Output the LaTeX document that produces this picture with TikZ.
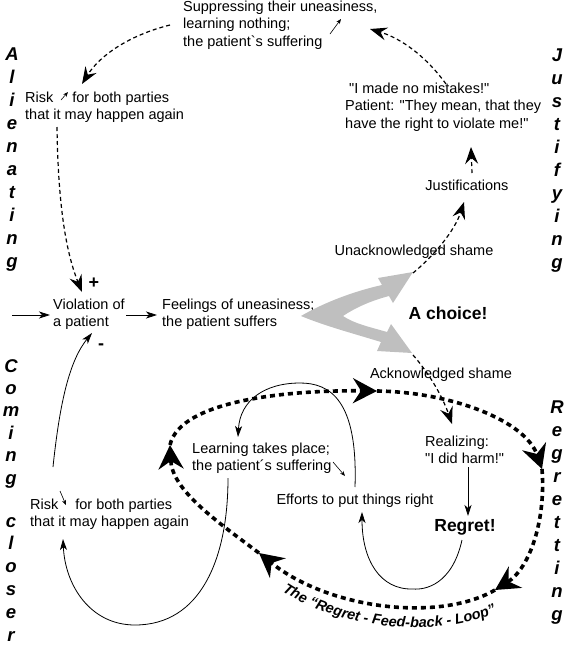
\documentclass[tikz,border=0pt]{standalone}
\usepackage{fontspec}
\setmainfont{Liberation Sans}[Ligatures=TeXOff]
\usetikzlibrary{arrows.meta,decorations.text,calc}
\begin{document}
\begin{tikzpicture}[x=1pt,y=-1pt,
  txt/.style={font=\fontsize{14.5}{17.5}\selectfont, inner sep=0pt, align=left},
  btxt/.style={font=\fontsize{17.5}{20}\selectfont\bfseries, inner sep=0pt},
  vword/.style={font=\fontsize{18.5}{20}\selectfont\bfseries\itshape, inner sep=0pt, anchor=base},
  conn/.style={line width=0.8pt, -{Stealth[length=11pt,width=7pt,inset=3pt]}},
  dconn/.style={line width=1.2pt, dash pattern=on 4pt off 3pt, -{Stealth[length=17pt,width=13pt,inset=6pt]}},
  loopseg/.style={line width=3.6pt, dash pattern=on 5pt off 4pt, -{Stealth[length=24pt,width=25pt,inset=8pt]}},
  tinyarr/.style={line width=0.6pt, -{Stealth[length=5pt,width=4pt,inset=1.5pt]}},
]
\useasboundingbox (0,0) rectangle (567,646);

% vertical words
\foreach \c [count=\i] in {A,l,i,e,n,a,t,i,n,g}
  \node[vword] (al\i) at (12,{54+23.1*(\i-1)+6}) {\c};
\foreach \c [count=\i] in {J,u,s,t,i,f,y,i,n,g}
  \node[vword] (ju\i) at (557,{55+23*(\i-1)+6}) {\c};
\foreach \c [count=\i] in {R,e,g,r,e,t,t,i,n,g}
  \node[vword] (re\i) at (557,{407+23.1*(\i-1)+6}) {\c};
\foreach \c [count=\i] in {C,o,m,i,n,g}
  \node[vword] (co\i) at (11,{366+22.4*(\i-1)+6}) {\c};
\foreach \c [count=\i] in {c,l,o,s,e,r}
  \node[vword] (cl\i) at (11,{521+22.8*(\i-1)+6}) {\c};

% text nodes
\node[txt, anchor=west] (sup) at (183,25) {Suppressing their uneasiness,\\learning nothing;\\the patient`s suffering};
\node[txt, anchor=west] (riskT) at (25,107) {Risk\hspace{19pt}for both parties\\that it may happen again};
\node[txt, anchor=west] (viol) at (53,314) {Violation of\\a patient};
\node[txt, anchor=west] (feel) at (162,314) {Feelings of uneasiness;\\the patient suffers};
\node[txt, anchor=west] (mist) at (345,107) {\hspace*{4pt}"I made no mistakes!"\\Patient: "They mean, that they\\have the right to violate me!"};
\node[txt] (just) at (467,185) {Justifications};
\node[txt] (unack) at (414,252) {Unacknowledged shame};
\node[btxt] (choice) at (448,313) {A choice!};
\node[txt] (ack) at (441,375) {Acknowledged shame};
\node[txt, anchor=west] (real) at (425,450) {Realizing:\\"I did harm!"};
\node[btxt] (regret) at (465,527) {Regret!};
\node[txt, anchor=west] (learn) at (192,458) {Learning takes place;\\the patient´s suffering};
\node[txt] (eff) at (355,501) {Efforts to put things right};
\node[txt, anchor=west] (riskB) at (30,514) {Risk\hspace{17pt}for both parties\\that it may happen again};
\node[btxt, font=\fontsize{18}{20}\selectfont\bfseries] (plus) at (94,283) {+};
\node[btxt, font=\fontsize{18}{20}\selectfont\bfseries] (minus) at (101,347) {-};

% gray fork
\fill[gray!50] (301,316) .. controls (325,302) and (355,291) .. (382,285) -- (378,278) -- (413,272) -- (393,303) -- (389,296)
  .. controls (370,301) and (355,308) .. (343,316)
  .. controls (355,324) and (370,327) .. (387,332) -- (391,324) -- (412,353) -- (377,351) -- (381,342)
  .. controls (355,334) and (325,326) .. cycle;

% small arrows
\draw[tinyarr] ($(sup.west)+(147,9)$) -- ($(sup.west)+(158,-6)$);
\draw[tinyarr] ($(riskT.west)+(36,-7)$) -- ($(riskT.west)+(43,-15)$);
\draw[tinyarr] ($(learn.west)+(141,4)$) -- ($(learn.west)+(153,18)$);
\draw[tinyarr] ($(riskB.west)+(30,-23)$) -- ($(riskB.west)+(36,-9)$);

% connectors
\coordinate (inL) at (12,315);
\draw[conn] (inL) -- ($(viol.west)+(-3,1)$);
\draw[conn] ($(viol.west)+(73,1)$) -- ($(feel.west)+(-5,1)$);
\draw[dconn] ($(sup.west)+(-13,0)$) .. controls (130,35) and (100,55) .. ($(riskT.west)+(57,-23)$);
\draw[dconn] ($(riskT.west)+(32,20)$) .. controls (58,200) and (65,250) .. ($(viol.west)+(29,-22)$);
\draw[conn] ($(riskB.west)+(23,-47)$) .. controls (60,400) and (70,360) .. ($(viol.west)+(39,19)$);
\draw[dconn] ($(unack)+(-1,21)$) .. controls (435,255) and (455,230) .. ($(just)+(-3,17)$);
\draw[dconn] ($(just)+(5,-12)$) -- ($(mist.west)+(126,40)$);
\draw[dconn] ($(mist.west)+(101,-23)$) .. controls (425,55) and (400,38) .. ($(sup.west)+(187,4)$);
\draw[dconn] ($(ack)+(-28,-20)$) .. controls (428,372) and (442,395) .. ($(real.west)+(27,-26)$);
\draw[conn] ($(real.west)+(43,17)$) -- ($(regret)+(3,-11)$);
\draw[conn] ($(regret)+(-3,13)$) .. controls (452,585) and (425,590) .. (413,589) .. controls (380,590) and (362,560) .. ($(eff)+(7,11)$);
\draw[conn] ($(eff)+(0,-14)$) .. controls (358,400) and (330,383) .. (300,383) .. controls (265,383) and (240,400) .. ($(learn.west)+(46,-21)$);
\draw[conn] ($(learn.west)+(36,20)$) .. controls (228,560) and (200,625) .. (135,625) .. controls (90,625) and (65,585) .. ($(riskB.west)+(33,25)$);

% regret feed-back loop
\coordinate (L1) at (377,391);
\coordinate (L2) at (542,469);
\coordinate (L3) at (495,590);
\coordinate (L4) at (259,553);
\coordinate (L5) at (170,445);
\draw[loopseg] (L5) .. controls (180,400) and (290,390) .. (L1);
\draw[loopseg] (L1) .. controls (450,392) and (525,420) .. (L2);
\draw[loopseg] (L2) .. controls (546,520) and (530,568) .. (L3);
\draw[loopseg] (L3) .. controls (440,622) and (330,610) .. (L4);
\draw[loopseg] (L4) .. controls (215,520) and (172,490) .. (L5);
\path[decorate, decoration={text along path, text align=center,
  text={|\fontsize{14.5}{16}\selectfont\bfseries\itshape|The “Regret - Feed-back - Loop”}}]
  (279,589) .. controls (330,625) and (432,643) .. (500,611);
\end{tikzpicture}
\end{document}
